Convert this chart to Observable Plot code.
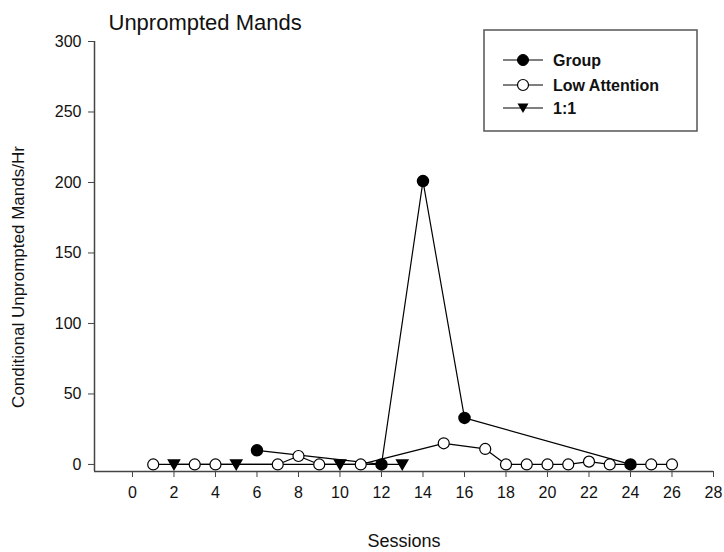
<!DOCTYPE html>
<html>
<head>
<meta charset="utf-8">
<script src="https://cdn.jsdelivr.net/npm/d3@7"></script>
<script src="https://cdn.jsdelivr.net/npm/@observablehq/plot@0.6"></script>
<style>
  body { margin: 0; background: #fff; }
  #chart svg { font-family: "Liberation Sans", Arial, sans-serif; display: block; }
</style>
</head>
<body>
<div id="chart"></div>
<script>
// ---- data ----
const groupSessions = [6, 12, 14, 16, 24];
const groupValues   = [10, 0, 201, 33, 0];
const lowSessions   = [1, 3, 4, 7, 8, 9, 11, 15, 17, 18, 19, 20, 21, 22, 23, 25, 26];
const lowValues     = [0, 0, 0, 0, 6, 0, 0, 15, 11, 0, 0, 0, 0, 2, 0, 0, 0];
const oneSessions   = [2, 5, 10, 13];
const oneValues     = [0, 0, 0, 0];
const seriesNames   = ["Group", "Low Attention", "1:1"];
const xTicks = [0, 2, 4, 6, 8, 10, 12, 14, 16, 18, 20, 22, 24, 26, 28];
const yTicks = [0, 50, 100, 150, 200, 250, 300];
const xDomain = [-1.83, 28];
const yDomain = [-5, 300];
const titleText = "Unprompted Mands";
const xLabel = "Sessions";
const yLabel = "Conditional Unprompted Mands/Hr";

// ---- build tables ----
const group = groupSessions.map((s, i) => ({s, v: groupValues[i]}));
const low   = lowSessions.map((s, i) => ({s, v: lowValues[i]}));
const one   = oneSessions.map((s, i) => ({s, v: oneValues[i]}));

const triangleDown = {
  draw(ctx, size) {
    const r = Math.sqrt(size / Math.PI);
    ctx.moveTo(-r, -0.8 * r);
    ctx.lineTo(r, -0.8 * r);
    ctx.lineTo(0, 0.9 * r);
    ctx.closePath();
  }
};

const axisColor = "#444";
const lineStyle = {x: "s", y: "v", stroke: "#000", strokeWidth: 1.2};

const chart = Plot.plot({
  width: 724,
  height: 552,
  marginLeft: 94,
  marginRight: 11,
  marginTop: 41,
  marginBottom: 81,
  style: {fontFamily: '"Liberation Sans", Arial, sans-serif', background: "#fff"},
  x: {domain: xDomain},
  y: {domain: yDomain},
  marks: [
    Plot.ruleX([xDomain[0]], {stroke: axisColor, strokeWidth: 1.5}),
    Plot.ruleY([yDomain[0]], {stroke: axisColor, strokeWidth: 1.5}),
    Plot.axisX({ticks: xTicks, tickSize: 6, tickPadding: 9, fontSize: 16, label: null, stroke: axisColor, color: "#111"}),
    Plot.axisY({ticks: yTicks, tickSize: 6, tickPadding: 7, fontSize: 16, label: null, stroke: axisColor, color: "#111"}),
    Plot.line(low, lineStyle),
    Plot.line(one, lineStyle),
    Plot.line(group, lineStyle),
    Plot.dot(one, {x: "s", y: "v", symbol: triangleDown, r: 5.5, fill: "#000", stroke: "#000"}),
    Plot.dot(low, {x: "s", y: "v", r: 5.5, fill: "#fff", stroke: "#000", strokeWidth: 1.2}),
    Plot.dot(group, {x: "s", y: "v", r: 5.5, fill: "#000", stroke: "#000"}),
    Plot.text([titleText], {frameAnchor: "top-left", dx: 14, dy: -12, lineAnchor: "bottom", textAnchor: "start", fontSize: 22, fill: "#111"}),
    Plot.text([xLabel], {frameAnchor: "bottom", dy: 70, lineAnchor: "middle", fontSize: 18, fill: "#111"})
  ]
});

document.getElementById("chart").appendChild(chart);

const svg = d3.select(chart);

// ---- y axis label ----
svg.append("text")
  .attr("transform", "translate(18,277) rotate(-90)")
  .attr("text-anchor", "middle").attr("dy", "0.35em")
  .attr("font-size", 17).attr("fill", "#111").text(yLabel);

// ---- legend (inside the plot, top-right) ----
const lg = svg.append("g").attr("class", "legend").attr("text-anchor", "start");
lg.append("rect").attr("x", 484).attr("y", 30).attr("width", 213).attr("height", 101)
  .attr("fill", "#fff").attr("stroke", "#555").attr("stroke-width", 1.5);
const rowsY = [60, 85, 108];
const markerFor = [
  g => g.append("circle").attr("r", 5.5).attr("fill", "#000").attr("stroke", "#000"),
  g => g.append("circle").attr("r", 5.5).attr("fill", "#fff").attr("stroke", "#000").attr("stroke-width", 1.2),
  g => g.append("path").attr("d", d3.symbol(triangleDown, 5.5 * 5.5 * Math.PI)()).attr("fill", "#000")
];
seriesNames.forEach((name, i) => {
  const row = lg.append("g").attr("transform", `translate(0,${rowsY[i]})`);
  row.append("line").attr("x1", 503).attr("x2", 543).attr("y1", 0).attr("y2", 0)
    .attr("stroke", "#000").attr("stroke-width", 1.2);
  markerFor[i](row.append("g").attr("transform", "translate(523,0)"));
  row.append("text").attr("x", 553).attr("y", 0).attr("dy", "0.35em")
    .attr("text-anchor", "start")
    .attr("font-size", 16).attr("font-weight", "bold").attr("fill", "#111").text(name);
});
</script>
</body>
</html>
